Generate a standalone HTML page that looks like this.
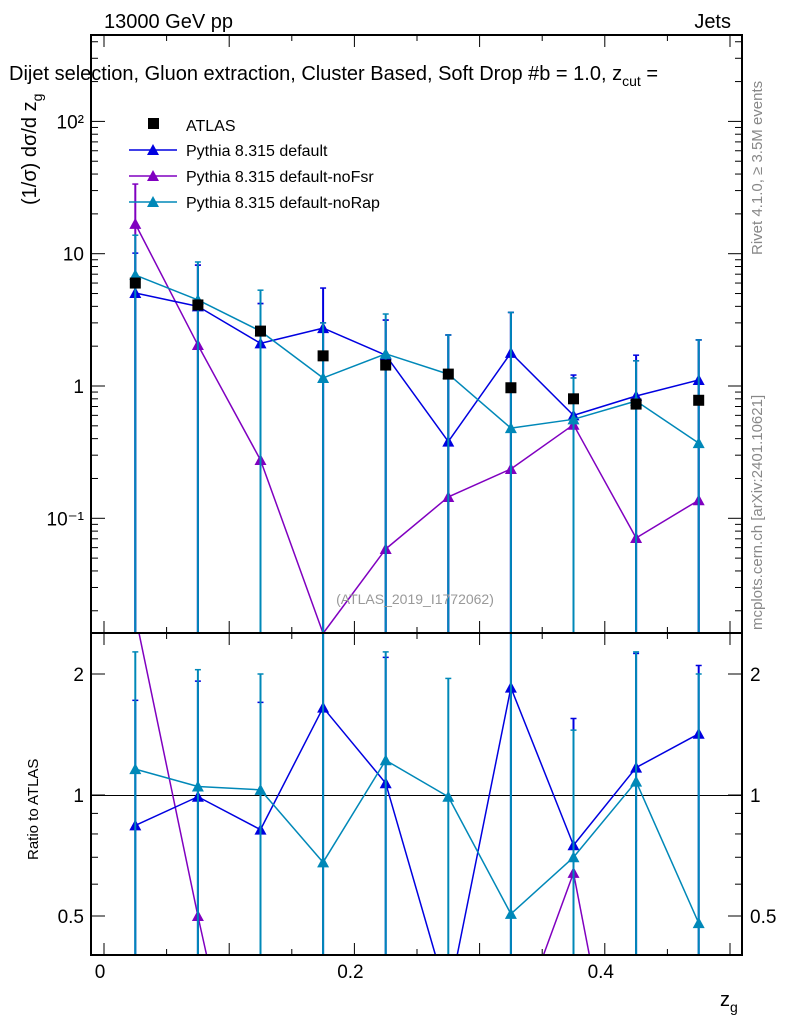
<!DOCTYPE html>
<html><head><meta charset="utf-8"><style>
html,body{margin:0;padding:0;background:#fff;width:786px;height:1024px;overflow:hidden;}
svg{display:block;}
svg text{font-family:"Liberation Sans",sans-serif;}
</style></head><body>
<svg id="c" width="786" height="1024" style="position:absolute;left:0;top:0" xmlns="http://www.w3.org/2000/svg"></svg>
<script>
const xs=[0.025,0.075,0.125,0.175,0.225,0.275,0.325,0.375,0.425,0.475];
const atlas=[6.0,4.1,2.6,1.69,1.44,1.23,0.97,0.80,0.73,0.78];
const pDef=[5.05,4.0,2.1,2.74,1.71,0.38,1.78,0.60,0.84,1.11];
const pFsr=[16.8,2.04,0.276,0.0135,0.0586,0.145,0.236,0.51,0.071,0.137];
const pRap=[6.9,4.47,2.6,1.15,1.75,1.23,0.48,0.56,0.77,0.37];
const upDef=[10.1,8.2,4.2,5.5,3.15,2.43,3.6,1.21,1.71,2.23];
const upFsr=[33.6,8.2,4.2,3.0,3.15,2.43,3.6,1.15,1.55,2.23];
const upRap=[13.8,8.66,5.3,3.0,3.5,2.43,3.6,1.15,1.55,2.23];
const rDef=[0.84,0.99,0.82,1.65,1.07,0.31,1.85,0.75,1.17,1.42];
const rFsr=[2.8,0.5,0.1,0.01,0.04,0.12,0.24,0.64,0.1,0.17];
const rRap=[1.16,1.05,1.03,0.68,1.22,0.99,0.506,0.70,1.08,0.48];
const rUpDef=[1.72,1.92,1.7,3.0,2.2,2.0,3.0,1.55,2.25,2.1];
const rUpRap=[2.27,2.05,2.0,2.6,2.27,1.95,3.0,1.45,2.27,2.0];
const xTicks=[0,0.2,0.4];
const yTicks=[[0.1,"10\u207B\u00B9"],[1,"1"],[10,"10"],[100,"10\u00B2"]];
const rTicks=[0.5,1,2];

const L=91,R=742,T=35,MB=633,RB=955;
const X=v=>104+v*1252;
const Y=v=>386-132.3*Math.log10(v);
const RY=v=>795-121*Math.log2(v);
const svg=document.getElementById('c');
const NS='http://www.w3.org/2000/svg';
function el(t,a,p){const e=document.createElementNS(NS,t);for(const k in a)e.setAttribute(k,a[k]);(p||svg).appendChild(e);return e;}
function txt(s,a,p){const e=el('text',a,p);e.textContent=s;return e;}

function clipSeg(x1,y1,x2,y2,ymin,ymax){
  let t0=0,t1=1;const dy=y2-y1;
  if(dy===0){if(y1<ymin||y1>ymax)return null;}
  else{let ta=(ymin-y1)/dy,tb=(ymax-y1)/dy;if(ta>tb){const k=ta;ta=tb;tb=k;}t0=Math.max(t0,ta);t1=Math.min(t1,tb);if(t0>t1)return null;}
  return [x1+(x2-x1)*t0,y1+dy*t0,x1+(x2-x1)*t1,y1+dy*t1];
}
function tri(g,x,y,c){return el('path',{d:`M${x} ${y-6}L${x+6} ${y+5}L${x-6} ${y+5}Z`,fill:c},g);}
function series(vals,ups,col,yf,ymin,ymax,name){
  const gg=el('g',{});
  
  
  if(ups) xs.forEach((x,i)=>{const px=X(x);let yt=yf(ups[i]);const yv=yf(vals[i]);if(yv>ymax+1)return;const capped=yt>=ymin;yt=Math.max(yt,ymin);
    el('line',{x1:px,x2:px,y1:yt,y2:ymax,stroke:col,'stroke-width':2},gg);
    if(capped)el('line',{x1:px-3,x2:px+3,y1:yt,y2:yt,stroke:col,'stroke-width':1.5},gg);});
  for(let i=0;i<xs.length-1;i++){const s=clipSeg(X(xs[i]),yf(vals[i]),X(xs[i+1]),yf(vals[i+1]),ymin,ymax);
    if(s)el('line',{x1:s[0],y1:s[1],x2:s[2],y2:s[3],stroke:col,'stroke-width':1.5},gg);}
  xs.forEach((x,i)=>{const y=yf(vals[i]);if(y>=ymin&&y<=ymax)tri(gg,X(x),y,col);});
}
const cDef='#0000e0',cFsr='#8000c0',cRap='#0088b8';
series(pFsr,upFsr,cFsr,Y,T,MB,'series-noFsr');
series(pDef,upDef,cDef,Y,T,MB,'series-default');
series(pRap,upRap,cRap,Y,T,MB,'series-noRap');
const ga=el('g',{});


xs.forEach((x,i)=>el('rect',{x:X(x)-5.5,y:Y(atlas[i])-5.5,width:11,height:11,fill:'#000'},ga));

el('line',{x1:L,x2:R,y1:Math.round(RY(1))+0.5,y2:Math.round(RY(1))+0.5,stroke:'#000','stroke-width':1});
series(rFsr,null,cFsr,RY,MB,RB,'ratio-noFsr');
series(rDef,rUpDef,cDef,RY,MB,RB,'ratio-default');
series(rRap,rUpRap,cRap,RY,MB,RB,'ratio-noRap');

el('rect',{x:L,y:T,width:R-L,height:MB-T,fill:'none',stroke:'#000','stroke-width':2});
el('rect',{x:L,y:MB,width:R-L,height:RB-MB,fill:'none',stroke:'#000','stroke-width':2});
for(let v=0;v<=0.5;v+=0.05){const px=X(v),big=Math.abs(v*10-Math.round(v*10))<1e-6;const h=big?12:6;
 [[T,1],[MB,-1],[MB,1],[RB,-1]].forEach(([y,s])=>el('line',{x1:px,x2:px,y1:y,y2:y+s*h,stroke:'#000'}));}
xTicks.forEach(v=>{const t=txt(String(v),{x:X(v)-4,y:978,'font-size':19,'text-anchor':'middle'});
 
 });
for(let d=-2;d<=2;d++)for(let m=1;m<10;m++){const v=m*Math.pow(10,d),y=Y(v);if(y<T||y>MB)continue;const h=m==1?14:7;
 el('line',{x1:L,x2:L+h,y1:y,y2:y,stroke:'#000'});el('line',{x1:R,x2:R-h,y1:y,y2:y,stroke:'#000'});}
yTicks.forEach(([v,s])=>{const t=txt(s,{x:84,y:Y(v)+7,'font-size':19,'text-anchor':'end'});
 
 });
[0.5,0.6,0.7,0.8,0.9,1,2].forEach(v=>{const y=RY(v),h=(v==0.5||v==1||v==2)?14:7;el('line',{x1:L,x2:L+h,y1:y,y2:y,stroke:'#000'});el('line',{x1:R,x2:R-h,y1:y,y2:y,stroke:'#000'});});
rTicks.forEach(v=>{[[84,'end'],[750,'start']].forEach(([x,a])=>{const t=txt(String(v),{x:x,y:RY(v)+7,'font-size':19,'text-anchor':a});
 
 });});
</script>
<svg width="786" height="1024" style="position:absolute;left:0;top:0" xmlns="http://www.w3.org/2000/svg" font-family="Liberation Sans, sans-serif">
<text x="104" y="28" font-size="20">13000 GeV pp</text>
<text x="731" y="28" font-size="20" text-anchor="end">Jets</text>
<text x="9" y="80" font-size="20">Dijet selection, Gluon extraction, Cluster Based, Soft Drop #b = 1.0, z<tspan font-size="14" dy="6">cut</tspan><tspan dy="-6"> =</tspan></text>
<text transform="translate(36,205) rotate(-90)" font-size="20">(1/σ) dσ/d z<tspan font-size="14" dy="6">g</tspan></text>
<text transform="translate(38,860) rotate(-90)" font-size="15">Ratio to ATLAS</text>
<text x="720" y="1006" font-size="20">z<tspan font-size="14" dy="6">g</tspan></text>
<text x="415" y="604" font-size="14" fill="#999" text-anchor="middle">(ATLAS_2019_I1772062)</text>
<text transform="translate(762,255) rotate(-90)" font-size="15" fill="#888">Rivet 4.1.0, ≥ 3.5M events</text>
<text transform="translate(762,630) rotate(-90)" font-size="15" fill="#888">mcplots.cern.ch [arXiv:2401.10621]</text>
<g>
<rect x="148" y="118" width="11" height="11" fill="#000"/>
<text x="186" y="131" font-size="16">ATLAS</text>
<line x1="129" x2="177" y1="150" y2="150" stroke="#0000e0" stroke-width="1.5"/><path d="M153 144L159 155L147 155Z" fill="#0000e0"/>
<text x="186" y="156" font-size="16">Pythia 8.315 default</text>
<line x1="129" x2="177" y1="176" y2="176" stroke="#8000c0" stroke-width="1.5"/><path d="M153 170L159 181L147 181Z" fill="#8000c0"/>
<text x="186" y="182" font-size="16">Pythia 8.315 default-noFsr</text>
<line x1="129" x2="177" y1="202" y2="202" stroke="#0088b8" stroke-width="1.5"/><path d="M153 196L159 207L147 207Z" fill="#0088b8"/>
<text x="186" y="208" font-size="16">Pythia 8.315 default-noRap</text>
</g>
</svg>
</body></html>
